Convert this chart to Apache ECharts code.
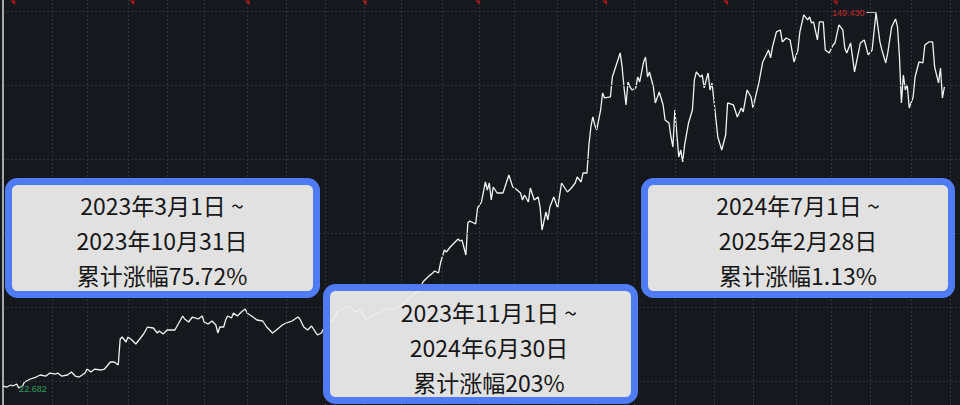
<!DOCTYPE html>
<html><head><meta charset="utf-8">
<script src="https://cdn.jsdelivr.net/npm/echarts@6/dist/echarts.min.js"></script>
<style>html,body{margin:0;padding:0;background:#15181d;}#c{width:960px;height:405px;}</style>
</head><body><div id="c"></div>
<script>
// trading-day index since 2023-03-01
const days = [0,2,4,5,7,8,10,11,14,17,19,22,24,27,28,30,33,35,37,39,42,43,45,47,50,52,55,57,59,60,61,63,64,66,68,70,72,74,77,79,80,82,84,88,90,92,93,95,97,100,102,103,105,107,109,110,111,113,114,115,117,118,120,122,124,125,128,130,133,135,138,140,143,145,148,151,152,154,156,158,160,161,163,166,169,171,174,178,180,183,186,188,192,195,197,200,203,207,211,213,215,217,220,221,223,224,226,227,229,231,233,234,235,237,238,239,242,243,245,247,248,249,250,251,253,256,259,261,262,265,266,267,269,270,272,274,275,276,278,279,280,282,284,286,289,291,293,294,296,297,299,300,301,302,303,304,306,307,308,311,312,314,316,317,318,319,320,321,322,324,325,326,328,329,330,331,333,334,336,338,339,341,342,343,344,346,347,348,349,351,353,354,355,357,358,359,361,362,363,364,366,368,370,371,374,376,378,379,381,383,384,387,389,392,393,394,396,398,399,401,403,405,407,408,410,412,413,414,415,417,418,420,421,423,425,426,428,430,431,432,434,436,439,441,443,445,447,449,450,452,453,455,457,458,459,460,461,462,463,464,466,467,469,471,472,474,476,477,479,480,481,482];
const values = [23.31,22.97,23.65,23.31,23.99,22.682,23.31,24.66,25.68,26.35,27.03,26.69,27.70,27.36,27.70,26.69,27.03,28.04,26.69,26.35,27.70,29.05,28.04,29.05,28.72,29.05,31.42,31.42,30.41,39.19,39.86,38.18,39.86,38.85,37.50,39.19,40.88,43.24,42.91,41.22,41.89,40.88,42.23,42.23,44.59,46.96,45.95,44.93,46.62,45.95,46.96,44.93,44.26,45.27,43.92,41.22,43.24,43.24,45.61,46.96,46.28,47.97,46.96,48.31,49.32,47.97,46.62,45.61,45.27,43.24,41.22,42.23,43.92,44.59,45.27,46.62,45.95,43.24,42.23,43.58,41.55,40.54,41.22,44.93,45.61,48.31,49.66,50.00,48.31,48.99,45.61,46.62,47.97,48.99,49.66,48.99,50.34,52.36,54.73,55.07,58.45,59.80,61.49,62.16,61.49,64.86,69.26,68.58,70.27,71.62,72.97,72.30,72.64,67.57,78.38,79.05,78.04,83.45,85.47,92.23,89.53,91.89,86.15,90.54,88.51,88.51,94.59,90.54,90.20,88.51,86.15,87.84,85.47,90.20,86.15,87.16,83.78,76.01,82.09,79.39,83.78,87.16,83.45,91.89,88.85,90.20,91.89,93.92,92.23,95.27,95.27,104.73,110.81,114.19,111.49,109.80,116.55,122.30,120.61,120.95,127.70,131.76,135.81,131.08,123.99,118.24,126.01,124.32,123.31,123.99,127.70,126.01,132.77,134.46,127.70,129.39,124.32,118.92,122.64,118.24,113.18,112.16,107.43,104.05,116.55,100.68,103.04,98.99,104.73,112.16,116.55,126.69,129.39,127.70,128.38,123.99,129.05,123.31,125.68,119.93,107.43,103.04,108.11,118.92,118.24,114.19,117.23,115.88,123.31,120.95,117.23,125.68,132.77,136.82,134.12,137.84,142.91,143.58,139.53,140.88,140.20,132.77,136.82,142.91,148.65,146.96,147.97,145.95,146.28,140.20,146.28,146.28,136.82,135.81,138.51,139.19,145.27,143.58,137.50,135.81,139.19,129.39,139.19,140.20,135.14,136.82,149.43,139.53,136.82,132.43,135.81,144.59,147.30,144.59,134.46,118.92,128.38,123.31,125.00,117.23,120.95,127.70,132.77,132.43,138.51,139.53,139.53,131.08,125.68,130.74,120.61,124.32];
const yTicks = [25, 50, 75, 100, 125, 150];
const monthStarts = [25,43,64,84,103,125,145,165,185,204,225,244,262,284,304,323,344,364,384,406,424,444,465,485];
const quarterMarks = [5,66,125,185,243,308,370,426];
const markLevel = 152.7;
const boxTexts = [
  ['2023年3月1日 ~', '2023年10月31日', '累计涨幅75.72%'],
  ['2023年11月1日 ~', '2024年6月30日', '累计涨幅203%'],
  ['2024年7月1日 ~', '2025年2月28日', '累计涨幅1.13%']
];

const seriesData = days.map((d, i) => [d, values[i]]);
let iMax = 0, iMin = 0;
values.forEach((v, i) => { if (v > values[iMax]) iMax = i; if (v < values[iMin]) iMin = i; });

const gridColor = '#30353d';
const chart = echarts.init(document.getElementById('c'), null, {renderer: 'svg'});

const boxes = [
  {x: 8.5, y: 181.5, w: 308, h: 113, tx: 162, ty: 240},
  {x: 326.5, y: 287.5, w: 308, h: 113, tx: 489, ty: 347},
  {x: 644.5, y: 181.5, w: 307, h: 113, tx: 798, ty: 240}
];
const graphics = [];
boxes.forEach((b, i) => {
  graphics.push({
    type: 'rect', z: 100,
    shape: {x: b.x, y: b.y, width: b.w, height: b.h, r: 9},
    style: {fill: 'rgba(238,238,238,0.94)', stroke: '#4f7cf6', lineWidth: 7}
  });
  graphics.push({
    type: 'text', z: 101, x: b.tx, y: b.ty,
    style: {
      text: boxTexts[i].join('\n'),
      fontSize: 23, fontFamily: '"Noto Sans CJK SC", "Noto Sans", sans-serif',
      fill: '#161616', align: 'center', verticalAlign: 'middle', lineHeight: 35
    }
  });
});
graphics.push({type: 'line', z: 50, shape: {x1: 3, y1: 0, x2: 3, y2: 405}, style: {stroke: '#d8d8d8', lineWidth: 1.5}});

chart.setOption({
  backgroundColor: '#15181d',
  animation: false,
  grid: {left: 3, right: 0, top: 0, bottom: 0},
  xAxis: {type: 'value', min: 0, max: 490, show: false, splitLine: {show: false}},
  yAxis: {type: 'value', min: 16.9, max: 153.7, show: false, splitLine: {show: false}},
  graphic: graphics,
  series: [
    {
      type: 'line', data: [], z: 1, silent: true,
      markLine: {
        silent: true, symbol: ['none', 'none'], label: {show: false},
        lineStyle: {color: gridColor, type: [2, 2], width: 1},
        data: yTicks.map(v => ({yAxis: v})).concat(monthStarts.map(d => ({xAxis: d})))
      }
    },
    {
      type: 'scatter', z: 4, silent: true,
      data: quarterMarks.map(d => [d, markLevel]),
      symbol: 'path://M0,0L4,0L4,4Z', symbolSize: 5,
      itemStyle: {color: '#d0161b'}
    },
    {
      type: 'line', z: 3, data: seriesData, showSymbol: false, clip: false,
      lineStyle: {color: '#f2f2f2', width: 1.3},
      markLine: {
        silent: true, symbol: ['none', 'none'], label: {show: false},
        lineStyle: {color: '#b8b8b8', type: 'solid', width: 1},
        data: [[{coord: [days[iMax], values[iMax]]}, {coord: [days[iMax] - 5, values[iMax]]}]]
      },
      markPoint: {
        silent: true, symbol: 'circle', symbolSize: 1,
        itemStyle: {color: 'rgba(0,0,0,0)'},
        data: [
          {coord: [days[iMax], values[iMax]], value: values[iMax],
           label: {show: true, position: 'left', distance: 11, color: '#c42a2a', fontSize: 9,
                   fontFamily: 'Liberation Sans, Arial, sans-serif', formatter: p => p.value.toFixed(3)}},
          {coord: [days[iMin], values[iMin]], value: values[iMin],
           label: {show: true, position: 'right', distance: 0, offset: [0, 1], color: '#2ea05a', fontSize: 9,
                   fontFamily: 'Liberation Sans, Arial, sans-serif', formatter: p => p.value.toFixed(3)}}
        ]
      }
    }
  ]
});
</script>
</body></html>
